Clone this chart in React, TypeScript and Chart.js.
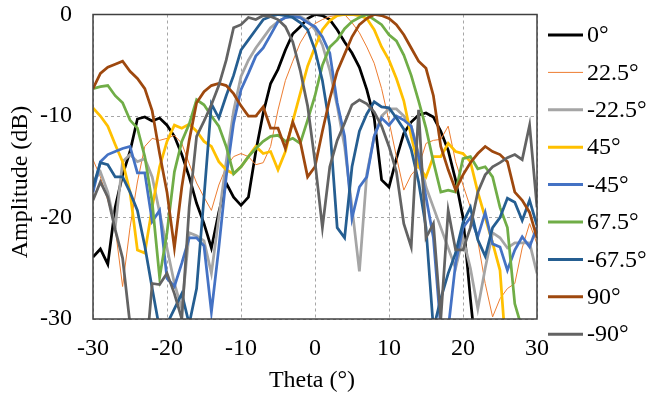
import { useEffect, useRef } from "react";
import { Chart, registerables } from "chart.js";

Chart.register(...registerables);

// Theta (°)
const theta = [
  -30, -29, -28, -27, -26, -25, -24, -23, -22, -21,
  -20, -19, -18, -17, -16, -15, -14, -13, -12, -11,
  -10, -9, -8, -7, -6, -5, -4, -3, -2, -1,
  0,
  1, 2, 3, 4, 5, 6, 7, 8, 9, 10,
  11, 12, 13, 14, 15, 16, 17, 18, 19, 20,
  21, 22, 23, 24, 25, 26, 27, 28, 29, 30,
];

const xTicks = [-30, -20, -10, 0, 10, 20, 30];
const yTicks = [-30, -20, -10, 0];

const amp0 = [
  -23.9, -23.1, -24.6, -19, -15.8, -13.5, -10.3, -10.1, -10.5, -10.2,
  -10.9, -12, -13.8, -16, -18.6, -20.6, -23, -19.5, -16.6, -18,
  -18.8, -18, -13.5, -9.7, -6.8, -5.4, -3.5, -1.9, -1.2, -0.4,
  0,
  -0.1, -0.5, -1.5, -2.7, -3.8, -5.2, -7.4, -10.2, -16.3, -17,
  -14.2, -11.7, -10.6, -9.9, -9.7, -10.1, -11.5, -13.4, -16.3, -20,
  -28, -35, -35, -35, -35, -35, -35, -35, -35, -35,
];

const amp22p5 = [
  -14.3, -16, -18.3, -21, -26.8, -21, -16.5, -13, -12.2, -12.4,
  -12.2, -11.9, -12.7, -14.7, -16.6, -18, -19.3, -16.8, -15, -14,
  -13.7, -14, -14.8, -14.6, -13, -9.4, -6.5, -4.6, -2.8, -1.6,
  -0.9,
  -0.5, -0.2, -0.1, 0, -0.8, -1.8, -3.2, -4.8, -7.3, -10.5,
  -14, -17.3, -15.8, -15, -12.7, -12.4, -12.3, -11, -14.5, -16.8,
  -19, -22.3, -26.5, -29.8, -28, -27, -26.5, -23, -20.6, -22.6,
];

const ampM22p5 = [
  -16.5, -15.5, -17.5, -21, -14.5, -13.8, -14.5, -14.2, -16, -19.5,
  -23, -26.5, -29, -21.5, -21.8, -22.3, -25.5, -20, -14.5, -9.5,
  -6.1, -4.5, -3.3, -2.3, -1.3, -0.7, -0.3, 0, -0.2, -0.6,
  -1.5,
  -3, -5.5, -9, -13, -19, -25.3, -15.7, -12, -10, -9.3,
  -9.3, -10, -11, -13.7, -17, -19, -21, -23, -25, -22,
  -25, -29, -25, -21.5, -22, -23, -22.5, -22.5, -22.5, -25.5,
];

const amp45 = [
  -9.2, -10, -11, -12.8, -14.5, -17.5, -23.2, -23.5, -19, -15,
  -12.5, -10.9, -11.2, -10.8, -11.5, -12.5, -13, -14.5, -15.3, -15.7,
  -15, -14, -13, -13.7, -13.5, -15.3, -13.5, -10.5, -7.8, -5.1,
  -3.2,
  -1.5, -0.6, -0.1, 0, 0, -0.1, -0.4, -1.5, -3.2, -4.5,
  -6.3, -8.5, -12, -15, -16, -14, -14, -12.7, -13.5, -13.7,
  -14.5, -17.5, -20, -22.5, -25.2, -35, -35, -35, -35, -35,
];

const ampM45 = [
  -17.5, -14.5, -13.8, -13.5, -13.2, -13, -15.6, -15.6, -20.4, -19.3,
  -26, -26.8, -24.5, -22, -22, -22.8, -29.3, -23, -16, -10.7,
  -7.4, -5.8, -4.1, -3.3, -2, -0.7, -0.3, -0.2, -0.3, -0.8,
  -1.2,
  -2.2, -3.8, -8.7, -12, -20.1, -17, -16, -12, -10.2, -10.9,
  -10, -10.4, -11, -14, -18, -22, -31, -31, -24.5, -21,
  -20, -21.9, -19.5, -22.6, -22.9, -25.2, -23.2, -21.9, -22.9, -20.9,
];

const amp67p5 = [
  -7.3, -7.1, -7, -8, -8.7, -10.4, -11.2, -14, -18.5, -25.9,
  -21.5, -15.5, -12.5, -10.8, -8.4, -8.9, -10, -11, -13, -15.7,
  -15, -14, -13.2, -12.5, -12, -11.9, -12.5, -12.2, -12.7, -10.4,
  -8,
  -5, -3.2, -2.5, -1.4, -0.7, -0.3, 0, -0.5, -1, -2,
  -2.6, -4, -6, -8.5, -11.2, -14.5, -17.5, -17.3, -17.5, -14.2,
  -14, -15.2, -15, -16, -19, -21, -28.5, -31, -35, -35,
];

const ampM67p5 = [
  -17, -14.6, -14.8, -16, -16, -17.5, -19.3, -22.8, -27, -31,
  -30.5, -29, -27.5, -30.5, -27, -18, -8.8, -10.2, -8, -6,
  -3.5, -2.5, -1.5, -0.5, -0.2, 0, -0.1, -0.3, -0.8, -1.5,
  -3.5,
  -6.5, -11, -21, -22, -15, -11.5, -9.8, -8.6, -9.1, -9.2,
  -10.2, -11.3, -13.3, -16.5, -21, -31, -28, -25.5, -23.5, -20.5,
  -19, -22.2, -23.8, -21, -20, -18.1, -18.5, -20.3, -18.3, -20.8,
];

const amp90 = [
  -7.3, -5.8, -5.2, -4.9, -4.6, -5.6, -6.3, -7.3, -9.5, -13.7,
  -17.5, -23, -17, -12.4, -8.7, -7.6, -7, -6.8, -7, -7.8,
  -9, -10, -10, -9.1, -11.2, -11.2, -13.2, -10.6, -12.5, -16,
  -15,
  -11.5, -8.3, -5.6, -3.9, -2.2, -1, -0.4, 0, -0.1, -0.4,
  -1, -2, -3.3, -4.6, -5.3, -8, -13, -15.3, -17.3, -15.8,
  -14.6, -13.7, -13, -13.5, -13.8, -14.5, -17.5, -18.3, -19.5, -22,
];

const ampM90 = [
  -18.3, -16.5, -18, -21.2, -24, -30.5, -35, -35, -26.5, -26.6,
  -25.5, -27.5, -30, -19, -12, -10.5, -8.9, -7, -4.5, -1.3,
  -1, -0.3, -0.5, -0.1, -0.2, -0.5, -1.2, -2.7, -5.5, -9,
  -14.5,
  -21, -15, -12.4, -10.7, -8.9, -8.4, -8.8, -9.6, -11, -13,
  -15.5, -20.6, -22.9, -9.4, -22, -20.6, -30, -19.3, -23.2, -23.2,
  -21, -17.5, -15.8, -15, -14.6, -14.1, -13.8, -14.3, -10.9, -19,
];

const seriesLabels = ["0°", "22.5°", "-22.5°", "45°", "-45°", "67.5°", "-67.5°", "90°", "-90°"];
const seriesValues = [amp0, amp22p5, ampM22p5, amp45, ampM45, amp67p5, ampM67p5, amp90, ampM90];
const seriesColors = ["#000000", "#ED7D31", "#A5A5A5", "#FFC000", "#4472C4", "#70AD47", "#255E91", "#9E480E", "#636363"];
const seriesWidths = [2.75, 1, 2.75, 2.75, 2.75, 2.75, 2.75, 2.75, 2.75];

const FONT = "'Liberation Serif', 'Times New Roman', serif";

export default function App() {
  const ref = useRef<HTMLCanvasElement | null>(null);

  useEffect(() => {
    if (!ref.current) return;

    const overlay = {
      id: "overlay",
      afterDraw(chart: any) {
        const { ctx, chartArea } = chart;
        ctx.save();
        // plot frame
        ctx.strokeStyle = "#404040";
        ctx.lineWidth = 1.5;
        ctx.strokeRect(chartArea.left, chartArea.top, chartArea.right - chartArea.left, chartArea.bottom - chartArea.top);
        // axis titles
        ctx.fillStyle = "#000000";
        ctx.font = `24px ${FONT}`;
        ctx.textAlign = "center";
        ctx.textBaseline = "middle";
        ctx.fillText("Theta (°)", 312, 381);
        ctx.save();
        ctx.translate(21, 182);
        ctx.rotate(-Math.PI / 2);
        ctx.fillText("Amplitude (dB)", 0, 0);
        ctx.restore();
        // legend
        ctx.textAlign = "left";
        seriesLabels.forEach((lab, i) => {
          const y = 35 + i * 37.4;
          ctx.strokeStyle = seriesColors[i];
          ctx.lineWidth = seriesWidths[i] > 1.5 ? 3 : 1;
          ctx.beginPath();
          ctx.moveTo(548, y);
          ctx.lineTo(583, y);
          ctx.stroke();
          ctx.fillStyle = "#000000";
          ctx.fillText(lab, 587, y + 1);
        });
        ctx.restore();
      },
    };

    const chart = new Chart(ref.current, {
      type: "line",
      data: {
        labels: theta,
        datasets: seriesLabels.map((lab, i) => ({
          label: lab,
          data: theta.map((t, j) => ({ x: t, y: seriesValues[i][j] })),
          borderColor: seriesColors[i],
          backgroundColor: seriesColors[i],
          borderWidth: seriesWidths[i],
          pointRadius: 0,
          tension: 0,
          fill: false,
          order: seriesLabels.length - i,
        })),
      },
      options: {
        responsive: false,
        animation: false,
        devicePixelRatio: 1,
        layout: { padding: { top: 14.5, right: 110, left: 0, bottom: 0 } },
        plugins: { legend: { display: false }, tooltip: { enabled: false } },
        scales: {
          x: {
            type: "linear",
            min: -30,
            max: 30,
            afterFit: (s: any) => { s.height = 82; s.paddingLeft = 0; s.paddingRight = 0; },
            afterBuildTicks: (s: any) => { s.ticks = xTicks.map((v) => ({ value: v })); },
            ticks: { font: { family: FONT, size: 24 }, color: "#000000", padding: 15, maxRotation: 0, autoSkip: false },
            grid: { color: "#A6A6A6", lineWidth: 1, drawTicks: false },
            border: { display: false, dash: [3, 3] },
          },
          y: {
            type: "linear",
            min: -30,
            max: 0,
            afterFit: (s: any) => { s.width = 93; s.paddingTop = 0; s.paddingBottom = 0; },
            afterBuildTicks: (s: any) => { s.ticks = yTicks.map((v) => ({ value: v })); },
            ticks: { font: { family: FONT, size: 24 }, color: "#000000", padding: 21, autoSkip: false },
            grid: { color: "#A6A6A6", lineWidth: 1, drawTicks: false },
            border: { display: false, dash: [3, 3] },
          },
        },
      },
      plugins: [overlay],
    });

    return () => chart.destroy();
  }, []);

  return (
    <div style={{ position: "absolute", left: 0, top: 0, width: 647, height: 401 }}>
      <canvas ref={ref} width={647} height={401} />
    </div>
  );
}
